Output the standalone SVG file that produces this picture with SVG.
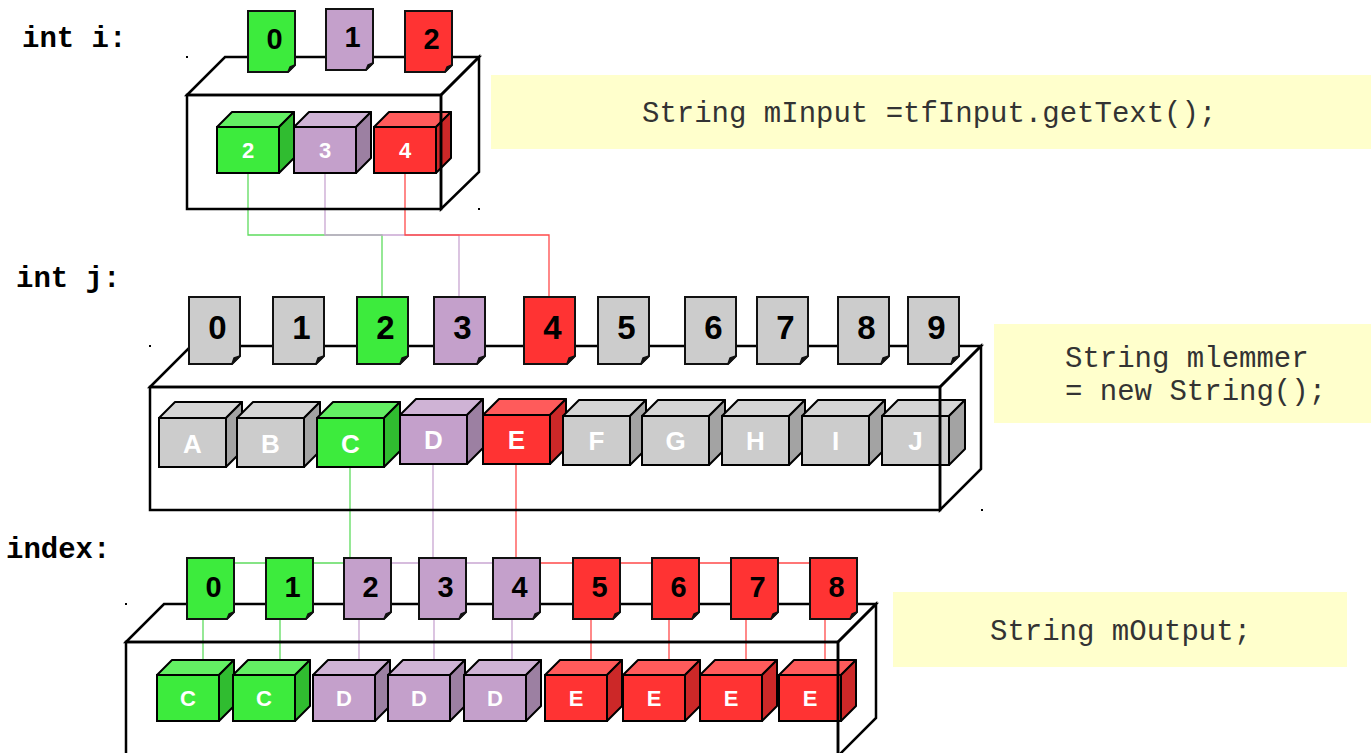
<svg xmlns="http://www.w3.org/2000/svg" xmlns:xlink="http://www.w3.org/1999/xlink" width="1371" height="753" viewBox="0 0 1371 753">
<style>
.lbl{font-family:"Liberation Mono","DejaVu Sans Mono",monospace;font-weight:bold;font-size:29px;fill:#000}
.num{font-family:"Liberation Sans",Arial,sans-serif;font-weight:bold;text-anchor:middle;fill:#000}
.nS{font-size:29px}
.nL{font-size:33px}
.cl{font-family:"Liberation Sans",Arial,sans-serif;font-weight:bold;fill:#fff;text-anchor:middle}
.cS{font-size:22px}
.cL{font-size:26px}
.code{font-family:"Liberation Mono","DejaVu Sans Mono",monospace;font-size:29px;fill:#333}
.note{fill:#FFFFCC}
.box{fill:none;stroke:#000;stroke-width:2.5;stroke-linejoin:miter}
.con{fill:none;stroke-width:1.3}
.cg{stroke:#5EDC5E}
.cp{stroke:#C9A6D2}
.cr{stroke:#FF4A4A}
.dot{fill:#000}
</style>
<defs>
  <g id="cubeS">
    <polygon points="0,0 15,-15 77,-15 62,0"/>
    <polygon points="0,0 15,-15 77,-15 62,0" fill="#fff" fill-opacity="0.2" stroke="#000" stroke-width="2" stroke-linejoin="round"/>
    <polygon points="62,0 77,-15 77,31 62,46"/>
    <polygon points="62,0 77,-15 77,31 62,46" fill="#000" fill-opacity="0.2" stroke="#000" stroke-width="2" stroke-linejoin="round"/>
    <rect width="62" height="46" stroke="#000" stroke-width="2"/>
  </g>
  <g id="cubeL">
    <polygon points="0,0 16,-16 83,-16 67,0"/>
    <polygon points="0,0 16,-16 83,-16 67,0" fill="#fff" fill-opacity="0.2" stroke="#000" stroke-width="2" stroke-linejoin="round"/>
    <polygon points="67,0 83,-16 83,33 67,49"/>
    <polygon points="67,0 83,-16 83,33 67,49" fill="#000" fill-opacity="0.2" stroke="#000" stroke-width="2" stroke-linejoin="round"/>
    <rect width="67" height="49" stroke="#000" stroke-width="2"/>
  </g>
  <g id="cardS">
    <path d="M0,0 H47 V54 L40,61 H0 Z" stroke="#111" stroke-width="2"/>
    <path d="M47,54 L40,61 L42,56 Z" fill="#111" stroke="#111" stroke-width="1.5" stroke-linejoin="round"/>
  </g>
  <g id="cardL">
    <path d="M0,0 H51 V59 L43,67 H0 Z" stroke="#111" stroke-width="2"/>
    <path d="M51,59 L43,67 L45,61 Z" fill="#111" stroke="#111" stroke-width="1.5" stroke-linejoin="round"/>
  </g>
</defs>

<rect width="1371" height="753" fill="#fff"/>

<!-- labels -->
<text class="lbl" x="22" y="47">int i:</text>
<text class="lbl" x="16" y="287">int j:</text>
<text class="lbl" x="6" y="558">index:</text>

<!-- code notes -->
<g id="note-input">
  <rect class="note" x="491" y="75" width="880" height="74"/>
  <text class="code" x="642" y="122">String mInput =tfInput.getText();</text>
</g>
<g id="note-lemmer">
  <rect class="note" x="994" y="324" width="377" height="99"/>
  <text class="code" x="1065" y="367">String mlemmer</text>
  <text class="code" x="1065" y="400">= new String();</text>
</g>
<g id="note-output">
  <rect class="note" x="893" y="592" width="454" height="75"/>
  <text class="code" x="990" y="640">String mOutput;</text>
</g>

<!-- connectors -->
<g id="connectors">
  <path class="con cg" d="M248,173 V235 H382 V297"/>
  <path class="con cp" d="M325,173 V235 H459 V297"/>
  <path class="con cr" d="M405,173 V235 H549 V297"/>
  <path class="con cg" d="M350,468 V563 H210"/>
  <path class="con cp" d="M433,464 V563 H367 M433,563 H516"/>
  <path class="con cr" d="M516,464 V563 H834"/>
  <path class="con cg" d="M203,619 V660 M280,619 V660"/>
  <path class="con cp" d="M359,619 V660 M434,619 V660 M512,619 V660"/>
  <path class="con cr" d="M591,619 V660 M669,619 V660 M746,619 V660 M825,619 V660"/>
</g>

<!-- top cubes (int i values) -->
<g id="i-cube-2"><use xlink:href="#cubeS" x="217" y="127" fill="#3DEB3D"/><text class="cl cS" x="248" y="158">2</text></g>
<g id="i-cube-3"><use xlink:href="#cubeS" x="294" y="127" fill="#C4A0CB"/><text class="cl cS" x="325" y="158">3</text></g>
<g id="i-cube-4"><use xlink:href="#cubeS" x="374" y="127" fill="#FF3333"/><text class="cl cS" x="405" y="158">4</text></g>

<!-- middle cubes (letters) -->
<g id="j-cube-A"><use xlink:href="#cubeL" x="159" y="418" fill="#CCCCCC"/><text class="cl cL" x="192.5" y="453">A</text></g>
<g id="j-cube-B"><use xlink:href="#cubeL" x="237" y="418" fill="#CCCCCC"/><text class="cl cL" x="270.5" y="453">B</text></g>
<g id="j-cube-C"><use xlink:href="#cubeL" x="317" y="418" fill="#3DEB3D"/><text class="cl cL" x="350.5" y="453">C</text></g>
<g id="j-cube-D"><use xlink:href="#cubeL" x="400" y="415" fill="#C4A0CB"/><text class="cl cL" x="433.5" y="449">D</text></g>
<g id="j-cube-E"><use xlink:href="#cubeL" x="483" y="415" fill="#FF3333"/><text class="cl cL" x="516.5" y="449">E</text></g>
<g id="j-cube-F"><use xlink:href="#cubeL" x="563" y="416" fill="#CCCCCC"/><text class="cl cL" x="596.5" y="450">F</text></g>
<g id="j-cube-G"><use xlink:href="#cubeL" x="642" y="416" fill="#CCCCCC"/><text class="cl cL" x="675.5" y="450">G</text></g>
<g id="j-cube-H"><use xlink:href="#cubeL" x="722" y="416" fill="#CCCCCC"/><text class="cl cL" x="755.5" y="450">H</text></g>
<g id="j-cube-I"><use xlink:href="#cubeL" x="802" y="416" fill="#CCCCCC"/><text class="cl cL" x="835.5" y="450">I</text></g>
<g id="j-cube-J"><use xlink:href="#cubeL" x="882" y="416" fill="#CCCCCC"/><text class="cl cL" x="915.5" y="450">J</text></g>

<!-- bottom cubes (output) -->
<g id="o-cube-0"><use xlink:href="#cubeS" x="157" y="675" fill="#3DEB3D"/><text class="cl cS" x="188" y="706">C</text></g>
<g id="o-cube-1"><use xlink:href="#cubeS" x="233" y="675" fill="#3DEB3D"/><text class="cl cS" x="264" y="706">C</text></g>
<g id="o-cube-2"><use xlink:href="#cubeS" x="313" y="675" fill="#C4A0CB"/><text class="cl cS" x="344" y="706">D</text></g>
<g id="o-cube-3"><use xlink:href="#cubeS" x="388" y="675" fill="#C4A0CB"/><text class="cl cS" x="419" y="706">D</text></g>
<g id="o-cube-4"><use xlink:href="#cubeS" x="464" y="675" fill="#C4A0CB"/><text class="cl cS" x="495" y="706">D</text></g>
<g id="o-cube-5"><use xlink:href="#cubeS" x="545" y="675" fill="#FF3333"/><text class="cl cS" x="576" y="706">E</text></g>
<g id="o-cube-6"><use xlink:href="#cubeS" x="623" y="675" fill="#FF3333"/><text class="cl cS" x="654" y="706">E</text></g>
<g id="o-cube-7"><use xlink:href="#cubeS" x="700" y="675" fill="#FF3333"/><text class="cl cS" x="731" y="706">E</text></g>
<g id="o-cube-8"><use xlink:href="#cubeS" x="779" y="675" fill="#FF3333"/><text class="cl cS" x="810" y="706">E</text></g>

<!-- containers -->
<g id="box-i" class="box">
  <polygon points="187,95 225,57 479,57 441,95"/>
  <polygon points="441,95 479,57 479,172 441,209"/>
  <rect x="187" y="95" width="254" height="114"/>
</g>
<g id="box-j" class="box">
  <polygon points="150,387 191,346 981,346 940,387"/>
  <polygon points="940,387 981,346 981,469 940,510"/>
  <rect x="150" y="387" width="790" height="123"/>
</g>
<g id="box-out" class="box">
  <polygon points="126,642 164,604 876,604 838,642"/>
  <polygon points="838,642 876,604 876,718 838,756"/>
  <rect x="126" y="642" width="712" height="114"/>
</g>

<!-- top cards (int i) -->
<g id="i-card-0"><use xlink:href="#cardS" x="248" y="11" fill="#3DEB3D"/><text class="num nS" x="274.5" y="49">0</text></g>
<g id="i-card-1"><use xlink:href="#cardS" x="326" y="9" fill="#C4A0CB"/><text class="num nS" x="352.5" y="47">1</text></g>
<g id="i-card-2"><use xlink:href="#cardS" x="405" y="11" fill="#FF3333"/><text class="num nS" x="431.5" y="49">2</text></g>

<!-- middle cards (int j) -->
<g id="j-card-0"><use xlink:href="#cardL" x="189" y="297" fill="#CCCCCC"/><text class="num nL" x="217.5" y="339">0</text></g>
<g id="j-card-1"><use xlink:href="#cardL" x="273" y="297" fill="#CCCCCC"/><text class="num nL" x="301.5" y="339">1</text></g>
<g id="j-card-2"><use xlink:href="#cardL" x="357" y="297" fill="#3DEB3D"/><text class="num nL" x="385.5" y="339">2</text></g>
<g id="j-card-3"><use xlink:href="#cardL" x="434" y="297" fill="#C4A0CB"/><text class="num nL" x="462.5" y="339">3</text></g>
<g id="j-card-4"><use xlink:href="#cardL" x="524" y="297" fill="#FF3333"/><text class="num nL" x="552.5" y="339">4</text></g>
<g id="j-card-5"><use xlink:href="#cardL" x="598" y="297" fill="#CCCCCC"/><text class="num nL" x="626.5" y="339">5</text></g>
<g id="j-card-6"><use xlink:href="#cardL" x="685" y="297" fill="#CCCCCC"/><text class="num nL" x="713.5" y="339">6</text></g>
<g id="j-card-7"><use xlink:href="#cardL" x="757" y="297" fill="#CCCCCC"/><text class="num nL" x="785.5" y="339">7</text></g>
<g id="j-card-8"><use xlink:href="#cardL" x="838" y="297" fill="#CCCCCC"/><text class="num nL" x="866.5" y="339">8</text></g>
<g id="j-card-9"><use xlink:href="#cardL" x="908" y="297" fill="#CCCCCC"/><text class="num nL" x="936.5" y="339">9</text></g>

<!-- bottom cards (index) -->
<g id="o-card-0"><use xlink:href="#cardS" x="187" y="558" fill="#3DEB3D"/><text class="num nS" x="213.5" y="597">0</text></g>
<g id="o-card-1"><use xlink:href="#cardS" x="266" y="558" fill="#3DEB3D"/><text class="num nS" x="292.5" y="597">1</text></g>
<g id="o-card-2"><use xlink:href="#cardS" x="344" y="558" fill="#C4A0CB"/><text class="num nS" x="370.5" y="597">2</text></g>
<g id="o-card-3"><use xlink:href="#cardS" x="419" y="558" fill="#C4A0CB"/><text class="num nS" x="445.5" y="597">3</text></g>
<g id="o-card-4"><use xlink:href="#cardS" x="493" y="558" fill="#C4A0CB"/><text class="num nS" x="519.5" y="597">4</text></g>
<g id="o-card-5"><use xlink:href="#cardS" x="573" y="558" fill="#FF3333"/><text class="num nS" x="599.5" y="597">5</text></g>
<g id="o-card-6"><use xlink:href="#cardS" x="652" y="558" fill="#FF3333"/><text class="num nS" x="678.5" y="597">6</text></g>
<g id="o-card-7"><use xlink:href="#cardS" x="731" y="558" fill="#FF3333"/><text class="num nS" x="757.5" y="597">7</text></g>
<g id="o-card-8"><use xlink:href="#cardS" x="810" y="558" fill="#FF3333"/><text class="num nS" x="836.5" y="597">8</text></g>

<!-- corner marks -->
<g id="marks">
  <rect class="dot" x="186" y="56" width="2" height="2"/>
  <rect class="dot" x="478" y="208" width="2" height="2"/>
  <rect class="dot" x="149" y="345" width="2" height="2"/>
  <rect class="dot" x="981" y="509" width="2" height="2"/>
  <rect class="dot" x="125" y="603" width="2" height="2"/>
</g>
</svg>
